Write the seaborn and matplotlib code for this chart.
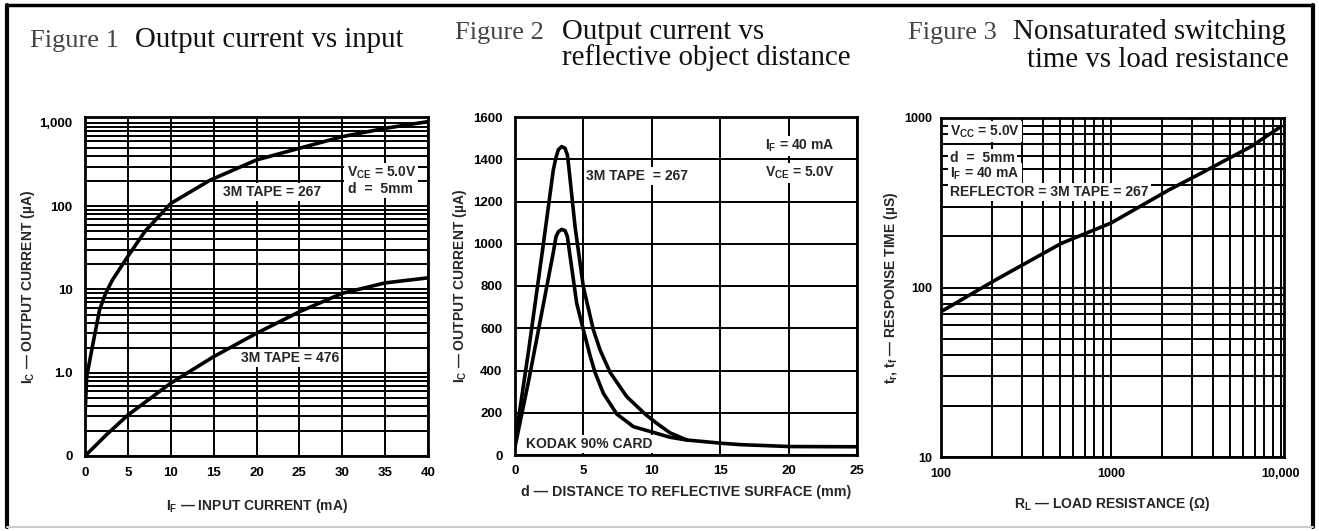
import numpy as np
import pandas as pd
import matplotlib
matplotlib.use('Agg')
import matplotlib.pyplot as plt
from matplotlib.ticker import FixedLocator, FixedFormatter, NullFormatter, LogLocator
from matplotlib.lines import Line2D
import seaborn as sns

# Figure 1: output current vs input current (log y)
f1_if = [0, 0.2, 0.95, 1.7, 2.4, 3.2, 5, 7, 10, 14.6, 20, 25, 30, 35, 40]
f1_tape267 = [0.3, 0.9, 2.3, 5.7, 9.0, 13, 25, 50, 108, 206, 360, 497, 685, 863, 1038]
f1_if_b = [0, 2.5, 5, 10, 15, 20, 25, 30, 35, 40]
f1_tape476 = [0.1, 0.18, 0.31, 0.75, 1.56, 2.98, 5.4, 9.0, 12, 13.8]

# Figure 2: output current vs distance
f2_d_tape = [0, 1, 2, 2.8, 3.0, 3.17, 3.41, 3.66, 3.83, 3.93, 4.39, 4.76, 5.0, 5.73, 6.22,
             6.95, 8.17, 9.51, 10.36, 11.33, 12.55, 15.2, 16.5, 20.1, 25]
f2_tape267 = [60, 497, 964, 1349, 1410, 1445, 1460, 1452, 1420, 1365, 1081, 907, 795, 592, 497,
              391, 276, 194, 150, 105, 71, 55, 49, 40, 39]
f2_d_card = [0, 1, 2, 2.8, 3.0, 3.17, 3.41, 3.66, 3.83, 3.98, 4.51, 5.0, 5.49, 5.85, 6.46,
             7.44, 8.66, 10.17, 11.33, 12.55]
f2_kodak = [39, 352, 688, 959, 1034, 1057, 1068, 1062, 1034, 963, 718, 592, 470, 391, 292,
            194, 134, 106, 84, 71]

# Figure 3: response time vs load resistance (log-log)
f3_rl = [100, 210, 510, 1000, 2200, 3400, 6700, 10000]
f3_time = [72, 111, 182, 240, 377, 473, 680, 890]

f1_yticks = [0.1, 1, 10, 100, 1000]
f1_ylabels = ['0', '1.0', '10', '100', '1,000']
f3_xticks = [100, 1000, 10000]
f3_xlabels = ['100', '1000', '10,000']
f3_yticks = [10, 100, 1000]
f3_ylabels = ['10', '100', '1000']

sns.set_style('white')
plt.rcParams['font.family'] = ['Liberation Sans', 'DejaVu Sans']
plt.rcParams['font.weight'] = 'bold'
plt.rcParams['mathtext.fontset'] = 'custom'
plt.rcParams['mathtext.rm'] = 'Liberation Sans:bold'
plt.rcParams['mathtext.bf'] = 'Liberation Sans:bold'
plt.rcParams['mathtext.it'] = 'Liberation Sans:bold'

W, H = 1319, 531
fig = plt.figure(figsize=(W / 100, H / 100), dpi=100)


def box(l, t, r, b):
    return [l / W, 1 - b / H, (r - l) / W, (b - t) / H]


def style(ax, tsize):
    ax.set_axisbelow(True)
    for s in ax.spines.values():
        s.set_color('black')
        s.set_linewidth(2)
    ax.tick_params(which='both', length=0, labelsize=tsize, colors='black')
    for lab in ax.get_xticklabels() + ax.get_yticklabels():
        lab.set_fontweight('bold')


grid_kw = dict(color='black', linewidth=1.4)
txt_kw = dict(fontsize=10, fontweight='bold', zorder=3,
              bbox=dict(facecolor='white', edgecolor='none', pad=1.5))
curve_kw = dict(color='black', linewidth=2.6, estimator=None, sort=False, legend=False)
lab_kw = dict(fontsize=10, fontweight='bold')

# ---------- Figure 1 ----------
ax1 = fig.add_axes(box(85, 117, 428, 456))
ax1.set_yscale('log')
sns.lineplot(x=f1_if, y=f1_tape267, ax=ax1, zorder=4, **curve_kw)
sns.lineplot(x=f1_if_b, y=f1_tape476, ax=ax1, zorder=4, **curve_kw)
ax1.set_xlim(0, 40)
ax1.set_ylim(0.1, 1180)
ax1.set_xticks(range(0, 41, 5))
ax1.yaxis.set_major_locator(FixedLocator(f1_yticks))
ax1.yaxis.set_major_formatter(FixedFormatter(f1_ylabels))
ax1.yaxis.set_minor_locator(LogLocator(base=10, subs=np.arange(2, 10)))
ax1.yaxis.set_minor_formatter(NullFormatter())
ax1.xaxis.grid(True, which='major', **grid_kw)
ax1.yaxis.grid(True, which='both', **grid_kw)
style(ax1, 9.5)
ax1.tick_params(axis='x', pad=8)
ax1.tick_params(axis='y', pad=9)
ax1.set_xlabel('I$_\\mathbf{F}$ — INPUT CURRENT (mA)', labelpad=13, **lab_kw)
ax1.set_ylabel('I$_\\mathbf{C}$ — OUTPUT CURRENT (µA)', labelpad=2, **lab_kw)
ax1.text(21.8, 148, '3M TAPE = 267', ha='center', va='center', **txt_kw)
ax1.text(30.5, 251, 'V$_\\mathbf{CE}$ = 5.0V', ha='left', va='center', **txt_kw)
ax1.text(30.7, 161, 'd  =  5mm', ha='left', va='center', **txt_kw)
ax1.text(23.9, 1.5, '3M TAPE = 476', ha='center', va='center', **txt_kw)

# ---------- Figure 2 ----------
ax2 = fig.add_axes(box(515, 117, 857, 455))
sns.lineplot(x=f2_d_tape, y=f2_tape267, ax=ax2, zorder=4, **curve_kw)
sns.lineplot(x=f2_d_card, y=f2_kodak, ax=ax2, zorder=4, **curve_kw)
ax2.set_xlim(0, 25)
ax2.set_ylim(0, 1600)
ax2.set_xticks(range(0, 26, 5))
ax2.set_yticks(range(0, 1601, 200))
ax2.grid(True, which='major', **grid_kw)
style(ax2, 9.5)
ax2.tick_params(axis='x', pad=7)
ax2.tick_params(axis='y', pad=9)
ax2.set_xlabel('d — DISTANCE TO REFLECTIVE SURFACE (mm)', labelpad=6,
               fontsize=10.3, fontweight='bold')
ax2.set_ylabel('I$_\\mathbf{C}$ — OUTPUT CURRENT (µA)', labelpad=3, **lab_kw)
ax2.text(8.9, 1321, '3M TAPE  = 267', ha='center', va='center', **txt_kw)
ax2.text(18.3, 1463, 'I$_\\mathbf{F}$ = 40 mA', ha='left', va='center', **txt_kw)
ax2.text(18.3, 1335, 'V$_\\mathbf{CE}$ = 5.0V', ha='left', va='center', **txt_kw)
ax2.text(0.8, 52, 'KODAK 90% CARD', ha='left', va='center', **txt_kw)

# ---------- Figure 3 ----------
ax3 = fig.add_axes(box(941, 118, 1284, 457))
ax3.set_xscale('log')
ax3.set_yscale('log')
sns.lineplot(x=f3_rl, y=f3_time, ax=ax3, zorder=4, **curve_kw)
ax3.set_xlim(100, 10430)
ax3.set_ylim(10, 1000)
ax3.xaxis.set_major_locator(FixedLocator(f3_xticks))
ax3.xaxis.set_major_formatter(FixedFormatter(f3_xlabels))
ax3.yaxis.set_major_locator(FixedLocator(f3_yticks))
ax3.yaxis.set_major_formatter(FixedFormatter(f3_ylabels))
for axis in (ax3.xaxis, ax3.yaxis):
    axis.set_minor_locator(LogLocator(base=10, subs=np.arange(2, 10)))
    axis.set_minor_formatter(NullFormatter())
ax3.grid(True, which='both', **grid_kw)
style(ax3, 9)
ax3.tick_params(axis='x', pad=8)
ax3.tick_params(axis='y', pad=6)
ax3.set_xlabel('R$_\\mathbf{L}$ — LOAD RESISTANCE (Ω)', labelpad=11, **lab_kw)
ax3.set_ylabel('t$_\\mathbf{r}$, t$_\\mathbf{f}$ — RESPONSE TIME (µS)', labelpad=3, **lab_kw)
ax3.text(113, 830, 'V$_\\mathbf{CC}$ = 5.0V', ha='left', va='center', **txt_kw)
ax3.text(113, 582, 'd  =  5mm', ha='left', va='center', **txt_kw)
ax3.text(113, 469, 'I$_\\mathbf{F}$ = 40 mA', ha='left', va='center', **txt_kw)
ax3.text(113, 368, 'REFLECTOR = 3M TAPE = 267', ha='left', va='center', **txt_kw)

# ---------- titles ----------
serif = ['Liberation Serif', 'DejaVu Serif']


def title(x, y, s, size=20.8, ha='left', light=False):
    fig.text(x / W, 1 - y / H, s, family=serif, fontsize=size,
             fontweight='normal', color='#444444' if light else '#111111',
             ha=ha, va='baseline')


title(30, 47, 'Figure 1', size=19, light=True)
title(135, 47, 'Output current vs input')
title(455, 39, 'Figure 2', size=19, light=True)
title(562, 39, 'Output current vs')
title(562, 65, 'reflective object distance')
title(908, 39, 'Figure 3', size=19, light=True)
title(1013, 39, 'Nonsaturated switching')
title(1289, 67, 'time vs load resistance', ha='right')

# outer frame
for xs, ys, c, lw in [((7, 7), (5, 527), 'black', 3),
                      ((7, 1313), (5, 5), 'black', 2.5),
                      ((1313, 1313), (5, 527), 'black', 3),
                      ((7, 1313), (527, 527), '#cccccc', 1.5)]:
    fig.add_artist(Line2D([x / W for x in xs], [1 - y / H for y in ys],
                          color=c, linewidth=lw, transform=fig.transFigure))

fig.savefig('out.png', dpi=100)
